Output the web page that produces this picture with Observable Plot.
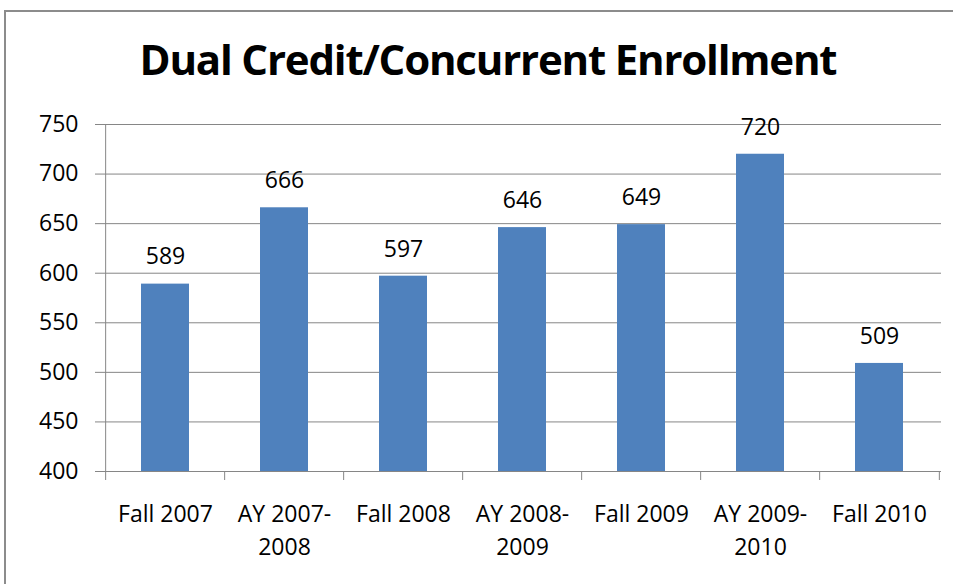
<!DOCTYPE html>
<html>
<head>
<meta charset="utf-8">
<script src="https://cdn.jsdelivr.net/npm/d3@7"></script>
<script src="https://cdn.jsdelivr.net/npm/@observablehq/plot@0.6"></script>
<style>
  html, body { margin: 0; padding: 0; background: #fff; overflow: hidden; width: 953px; height: 584px; }
  #frame { position: absolute; left: 4px; top: 10px; width: 1000px; height: 1000px; border: 2px solid #8c8c8c; box-sizing: border-box; }
  #title { position: absolute; left: 4px; top: 30px; width: 968px; text-align: center;
           font-family: "Open Sans", sans-serif; font-weight: 700; font-size: 42px; line-height: normal;
           letter-spacing: -1.2px; color: #000; white-space: nowrap; }
  #chart { position: absolute; left: 0; top: 100px; }
</style>
</head>
<body>
<div id="frame"></div>
<div id="title">Dual Credit/Concurrent Enrollment</div>
<div id="chart"></div>
<script>
const categories = ["Fall 2007", "AY 2007-2008", "Fall 2008", "AY 2008-2009", "Fall 2009", "AY 2009-2010", "Fall 2010"];
const tickLabels = ["Fall 2007", "AY 2007-\n2008", "Fall 2008", "AY 2008-\n2009", "Fall 2009", "AY 2009-\n2010", "Fall 2010"];
const values = [589, 666, 597, 646, 649, 720, 509];
const yTicks = [400, 450, 500, 550, 600, 650, 700, 750];

const data = categories.map((c, i) => ({category: c, value: values[i]}));
const labelOf = new Map(categories.map((c, i) => [c, tickLabels[i]]));

const W = 953, H = 484;
const mL = 103, mR = 12, mT = 24, mB = 113;
const half = (W - mL - mR) / categories.length / 2;
const gray = "#868686";

const chart = Plot.plot({
  width: W,
  height: H,
  marginLeft: mL,
  marginRight: mR,
  marginTop: mT,
  marginBottom: mB,
  style: {fontFamily: "Open Sans, sans-serif", fontSize: "23px", color: "#000", background: "transparent"},
  x: {domain: categories, paddingInner: 0.6, paddingOuter: 0.3, label: null},
  y: {domain: [400, 750], label: null},
  marks: [
    Plot.gridY(yTicks, {stroke: gray, strokeOpacity: 1, strokeWidth: 1}),
    Plot.barY(data, {x: "category", y1: 400, y2: "value", fill: "#4F81BD"}),
    Plot.ruleY([400], {stroke: gray, strokeWidth: 1}),
    Plot.ruleX(categories.slice(0, 1), {x: d => d, dx: -half, y1: 750, y2: 400, insetBottom: -9, stroke: gray}),
    Plot.ruleX(categories.slice(1), {x: d => d, dx: -half, y1: 400, y2: 400, insetBottom: -9, stroke: gray}),
    Plot.ruleX(categories.slice(-1), {x: d => d, dx: half, y1: 400, y2: 400, insetBottom: -9, stroke: gray}),
    Plot.axisY({ticks: yTicks, tickSize: 8, tickPadding: 17, stroke: gray, fill: "#000", fontSize: 23, tickFormat: d => String(d)}),
    Plot.axisX({tickSize: 0, tickPadding: 27, fontSize: 23, fill: "#000", lineHeight: 1.43, tickFormat: d => labelOf.get(d)}),
    Plot.text(data, {x: "category", y: "value", text: d => String(d.value), dy: -27, fontSize: 23, fill: "#000"})
  ]
});
document.getElementById("chart").appendChild(chart);
</script>
</body>
</html>
